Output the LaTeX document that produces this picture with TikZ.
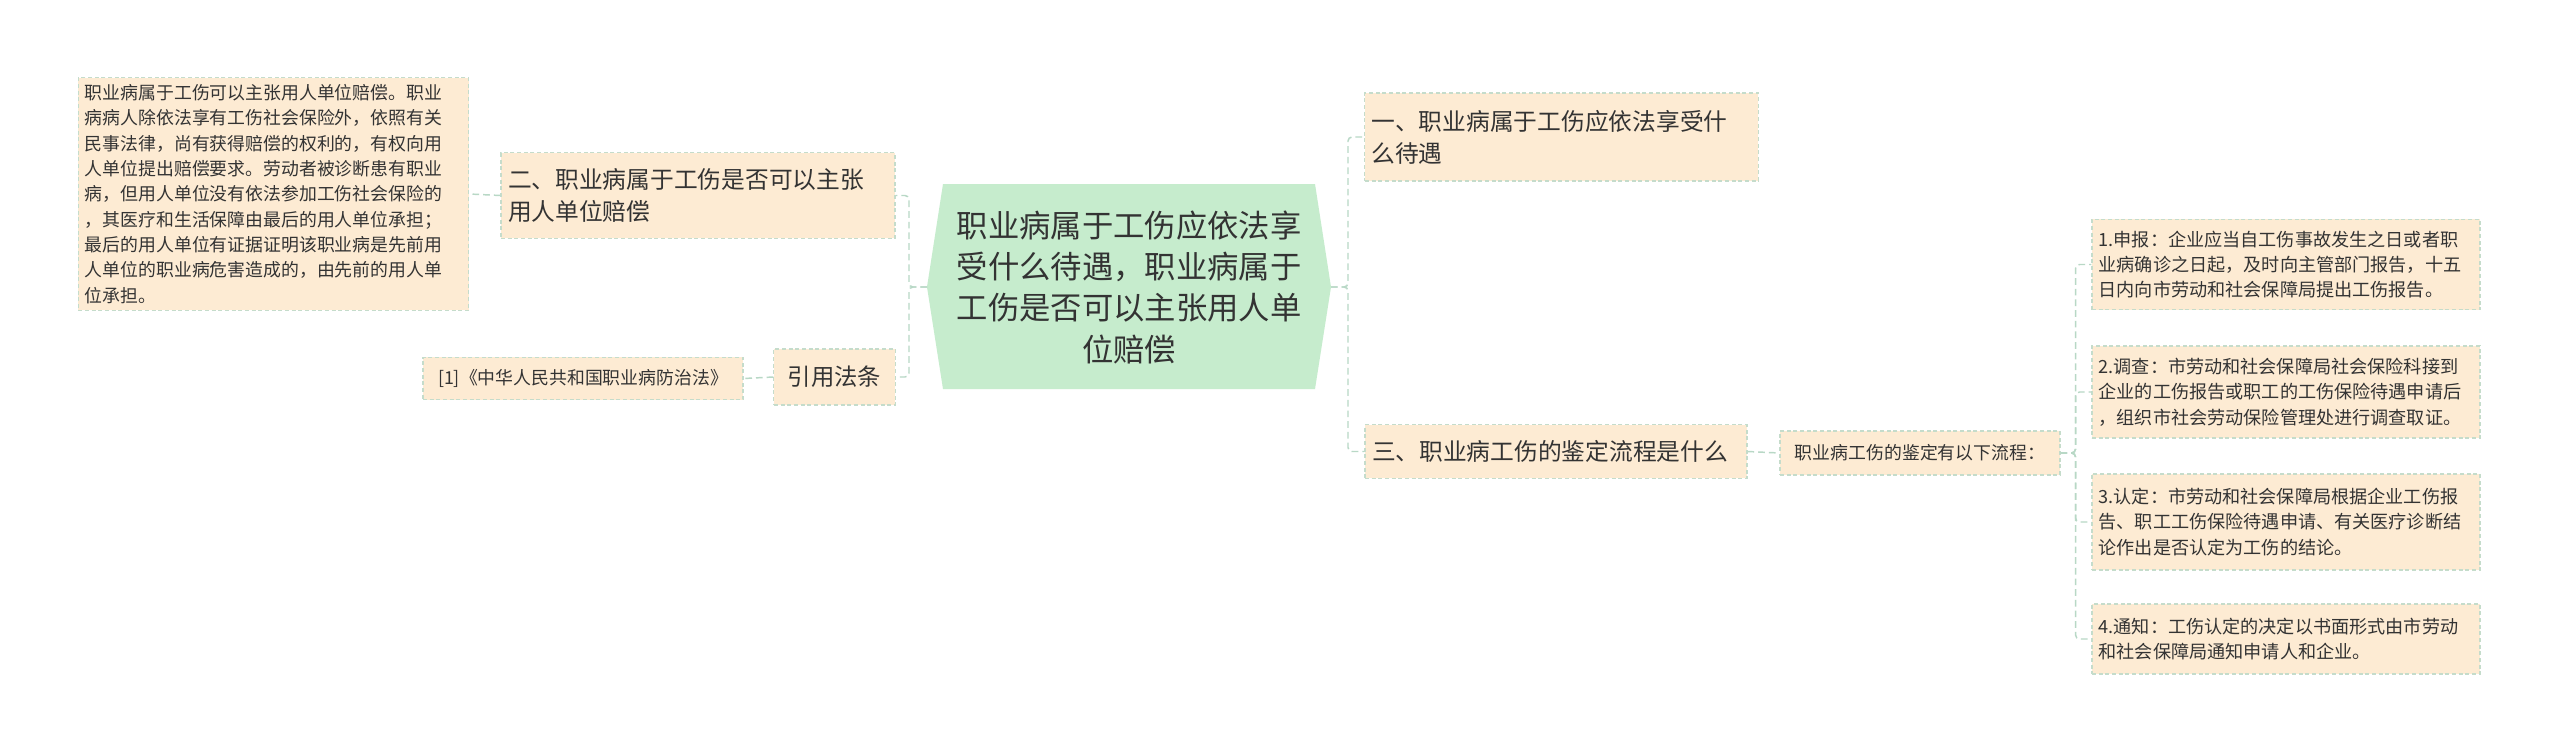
\documentclass[tikz,border=0pt]{standalone}
\usepackage{fontspec}
\setmainfont{Noto Sans CJK SC}
\begin{document}
\begin{tikzpicture}[x=0.75pt,y=-0.75pt,
  box/.style={draw=boxline,fill=boxfill,dashed,line width=0.8pt,dash pattern=on 3pt off 2pt,inner sep=5pt,align=left,anchor=center,text=txt},
  link/.style={draw=linkc,line width=1.1pt,dash pattern=on 5pt off 3pt,rounded corners=3pt}]
\definecolor{boxfill}{HTML}{FDEBD3}
\definecolor{boxline}{HTML}{C5DCCB}
\definecolor{linkc}{HTML}{B8D8C6}
\definecolor{centfill}{HTML}{C6ECCD}
\definecolor{txt}{HTML}{333333}
\useasboundingbox[fill=white] (0,0) rectangle (2560,754);
% center
\fill[centfill] (943,184) -- (1315,184) -- (1331,287) -- (1315,389) -- (943,389) -- (927,287) -- cycle;
\node[align=center,font=\fontsize{23.5}{31}\selectfont,text=txt] (c) at (1129,287) {职业病属于工伤应依法享\\受什么待遇，职业病属于\\工伤是否可以主张用人单\\位赔偿};
\coordinate (cw) at (927,287);
\coordinate (ce) at (1331,287);
% left
\node[box,minimum width=293pt,minimum height=174pt,text width=283pt,font=\fontsize{13.4}{19}\selectfont] (lt) at (273.5,194) {职业病属于工伤可以主张用人单位赔偿。职业\\病病人除依法享有工伤社会保险外，依照有关\\民事法律，尚有获得赔偿的权利的，有权向用\\人单位提出赔偿要求。劳动者被诊断患有职业\\病，但用人单位没有依法参加工伤社会保险的\\，其医疗和生活保障由最后的用人单位承担；\\最后的用人单位有证据证明该职业病是先前用\\人单位的职业病危害造成的，由先前的用人单\\位承担。};
\node[box,minimum width=295.5pt,minimum height=64pt,text width=285pt,font=\fontsize{17.8}{24}\selectfont] (n2) at (698,195.5) {二、职业病属于工伤是否可以主张\\用人单位赔偿};
\node[box,minimum width=91pt,minimum height=42pt,align=center,font=\fontsize{17.5}{22}\selectfont] (yy) at (834.5,377) {引用法条};
\node[box,minimum width=240pt,minimum height=32pt,align=center,font=\fontsize{13.4}{17}\selectfont] (law) at (583,378.5) {[1]《中华人民共和国职业病防治法》};
% right
\node[box,minimum width=295pt,minimum height=66pt,text width=285pt,font=\fontsize{17.8}{24}\selectfont] (n1) at (1561.5,137) {一、职业病属于工伤应依法享受什\\么待遇};
\node[box,minimum width=286.5pt,minimum height=40pt,text width=276pt,font=\fontsize{17.8}{22}\selectfont] (n3) at (1556,451.5) {三、职业病工伤的鉴定流程是什么};
\node[box,minimum width=210pt,minimum height=33pt,align=center,font=\fontsize{13.4}{17}\selectfont] (flow) at (1920,453) {职业病工伤的鉴定有以下流程：};
\node[box,minimum width=291pt,minimum height=68pt,text width=281pt,font=\fontsize{13.6}{19}\selectfont] (s1) at (2286,264.5) {1.申报：企业应当自工伤事故发生之日或者职\\业病确诊之日起，及时向主管部门报告，十五\\日内向市劳动和社会保障局提出工伤报告。};
\node[box,minimum width=291pt,minimum height=69pt,text width=281pt,font=\fontsize{13.6}{19}\selectfont] (s2) at (2286,392) {2.调查：市劳动和社会保障局社会保险科接到\\企业的工伤报告或职工的工伤保险待遇申请后\\，组织市社会劳动保险管理处进行调查取证。};
\node[box,minimum width=291pt,minimum height=72pt,text width=281pt,font=\fontsize{13.6}{19}\selectfont] (s3) at (2286,522) {3.认定：市劳动和社会保障局根据企业工伤报\\告、职工工伤保险待遇申请、有关医疗诊断结\\论作出是否认定为工伤的结论。};
\node[box,minimum width=291pt,minimum height=52.5pt,text width=281pt,font=\fontsize{13.6}{19}\selectfont] (s4) at (2286,639) {4.通知：工伤认定的决定以书面形式由市劳动\\和社会保障局通知申请人和企业。};
% links
\draw[link] (cw) -- ++(-18,0) |- (n2.east);
\draw[link] (cw) -- ++(-18,0) |- (yy.east);
\draw[link] (n2.west) -- (lt.east);
\draw[link] (yy.west) -- (law.east);
\draw[link] (ce) -- ++(17,0) |- (n1.west);
\draw[link] (ce) -- ++(17,0) |- (n3.west);
\draw[link] (n3.east) -- (flow.west);
\draw[link] (flow.east) -- ++(15,0) |- (s1.west);
\draw[link] (flow.east) -- ++(15,0) |- (s2.west);
\draw[link] (flow.east) -- ++(15,0) |- (s3.west);
\draw[link] (flow.east) -- ++(15,0) |- (s4.west);
\end{tikzpicture}
\end{document}
